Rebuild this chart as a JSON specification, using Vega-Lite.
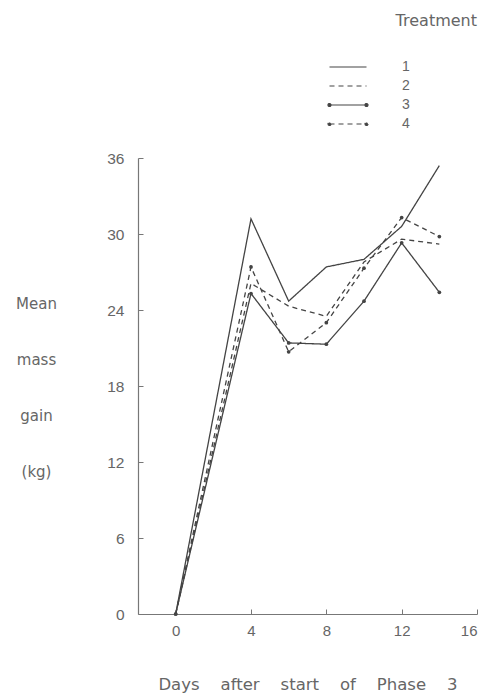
{
  "$schema": "https://vega.github.io/schema/vega-lite/v6.json",
  "autosize": {"type": "none"},
  "padding": {"left": 138, "top": 158, "right": 14, "bottom": 80},
  "width": 339,
  "height": 456,
  "background": "white",
  "title": {
    "text": "Treatment",
    "anchor": "end",
    "frame": "group",
    "orient": "top",
    "offset": 31,
    "font": "DejaVu Sans",
    "fontSize": 16,
    "fontWeight": "normal",
    "color": "#666"
  },
  "config": {
    "view": {"stroke": null},
    "font": "Liberation Sans"
  },
  "data": {
    "values": [
      {"treatment": "1", "day": 0, "gain": 0},
      {"treatment": "1", "day": 4, "gain": 31.2},
      {"treatment": "1", "day": 6, "gain": 24.7},
      {"treatment": "1", "day": 8, "gain": 27.4},
      {"treatment": "1", "day": 10, "gain": 28.0},
      {"treatment": "1", "day": 12, "gain": 30.6},
      {"treatment": "1", "day": 14, "gain": 35.4},
      {"treatment": "2", "day": 0, "gain": 0},
      {"treatment": "2", "day": 4, "gain": 26.1},
      {"treatment": "2", "day": 6, "gain": 24.3},
      {"treatment": "2", "day": 8, "gain": 23.5},
      {"treatment": "2", "day": 10, "gain": 27.8},
      {"treatment": "2", "day": 12, "gain": 29.6},
      {"treatment": "2", "day": 14, "gain": 29.2},
      {"treatment": "3", "day": 0, "gain": 0},
      {"treatment": "3", "day": 4, "gain": 25.3},
      {"treatment": "3", "day": 6, "gain": 21.4},
      {"treatment": "3", "day": 8, "gain": 21.3},
      {"treatment": "3", "day": 10, "gain": 24.7},
      {"treatment": "3", "day": 12, "gain": 29.3},
      {"treatment": "3", "day": 14, "gain": 25.4},
      {"treatment": "4", "day": 0, "gain": 0},
      {"treatment": "4", "day": 4, "gain": 27.4},
      {"treatment": "4", "day": 6, "gain": 20.7},
      {"treatment": "4", "day": 8, "gain": 23.0},
      {"treatment": "4", "day": 10, "gain": 27.3},
      {"treatment": "4", "day": 12, "gain": 31.3},
      {"treatment": "4", "day": 14, "gain": 29.8}
    ]
  },
  "encoding": {
    "x": {
      "field": "day",
      "type": "quantitative",
      "scale": {"domain": [-2, 16], "nice": false, "zero": false},
      "axis": {
        "values": [0, 4, 8, 12, 16],
        "grid": false,
        "tickSize": -5,
        "tickColor": "#777",
        "domainColor": "#777",
        "domainWidth": 1.2,
        "labelPadding": 14,
        "labelFontSize": 15,
        "labelColor": "#666",
        "labelFont": "Liberation Sans",
        "title": "Days\u00a0\u00a0\u00a0 after\u00a0\u00a0\u00a0 start\u00a0\u00a0\u00a0 of\u00a0\u00a0\u00a0 Phase\u00a0\u00a0\u00a0 3",
        "titleFont": "DejaVu Sans",
        "titleFontSize": 16.5,
        "titleFontWeight": "normal",
        "titleColor": "#666",
        "titleBaseline": "middle",
        "titleY": 70
      }
    },
    "y": {
      "field": "gain",
      "type": "quantitative",
      "scale": {"domain": [0, 36], "nice": false},
      "axis": {
        "values": [0, 6, 12, 18, 24, 30, 36],
        "grid": false,
        "tickSize": -5,
        "tickColor": "#777",
        "domainColor": "#777",
        "domainWidth": 1.2,
        "labelPadding": 19,
        "labelFontSize": 15.5,
        "labelColor": "#666",
        "labelFont": "Liberation Sans",
        "title": ["Mean", "mass", "gain", "(kg)"],
        "titleFont": "DejaVu Sans",
        "titleFontSize": 15,
        "titleFontWeight": "normal",
        "titleColor": "#666",
        "titleAngle": 0,
        "titleAlign": "center",
        "titleBaseline": "top",
        "titleLineHeight": 56,
        "titleX": -102,
        "titleY": 138
      }
    }
  },
  "layer": [
    {
      "mark": {"type": "line", "strokeWidth": 1.3, "color": "#444"},
      "encoding": {
        "strokeDash": {
          "field": "treatment",
          "type": "nominal",
          "scale": {"domain": ["1", "2", "3", "4"], "range": [[1, 0], [5, 4], [1, 0], [5, 4]]},
          "legend": {
            "orient": "none",
            "legendX": 203,
            "legendY": -98,
            "padding": 0,
            "title": null,
            "symbolType": "stroke",
            "symbolSize": 100,
            "symbolStrokeColor": "#444",
            "symbolStrokeWidth": 1.2,
            "labelOffset": 47,
            "labelFontSize": 14,
            "labelColor": "#666",
            "labelFont": "Liberation Sans",
            "rowPadding": 5,
            "encode": {
              "symbols": {
                "update": {
                  "shape": {"signal": "datum.value == '3' || datum.value == '4' ? 'M-3.7,0L3.7,0M-3.4,0A0.3,0.3 0 1 1 -4,0A0.3,0.3 0 1 1 -3.4,0M4,0A0.3,0.3 0 1 1 3.4,0A0.3,0.3 0 1 1 4,0' : 'M-3.7,0L3.7,0'"},
                  "size": {"value": 100},
                  "fill": {"signal": "datum.value == '3' || datum.value == '4' ? '#444' : 'transparent'"},
                  "stroke": {"value": "#444"},
                  "strokeWidth": {"value": 1.2},
                  "strokeDash": {"signal": "datum.value == '2' || datum.value == '4' ? [5, 4] : [1, 0]"},
                  "opacity": {"value": 1}
                }
              }
            }
          }
        }
      }
    },
    {
      "transform": [{"filter": "datum.treatment == '3' || datum.treatment == '4'"}],
      "mark": {"type": "point", "filled": true, "size": 14, "color": "#444", "opacity": 1},
      "encoding": {
        "detail": {"field": "treatment", "type": "nominal"}
      }
    }
  ]
}
